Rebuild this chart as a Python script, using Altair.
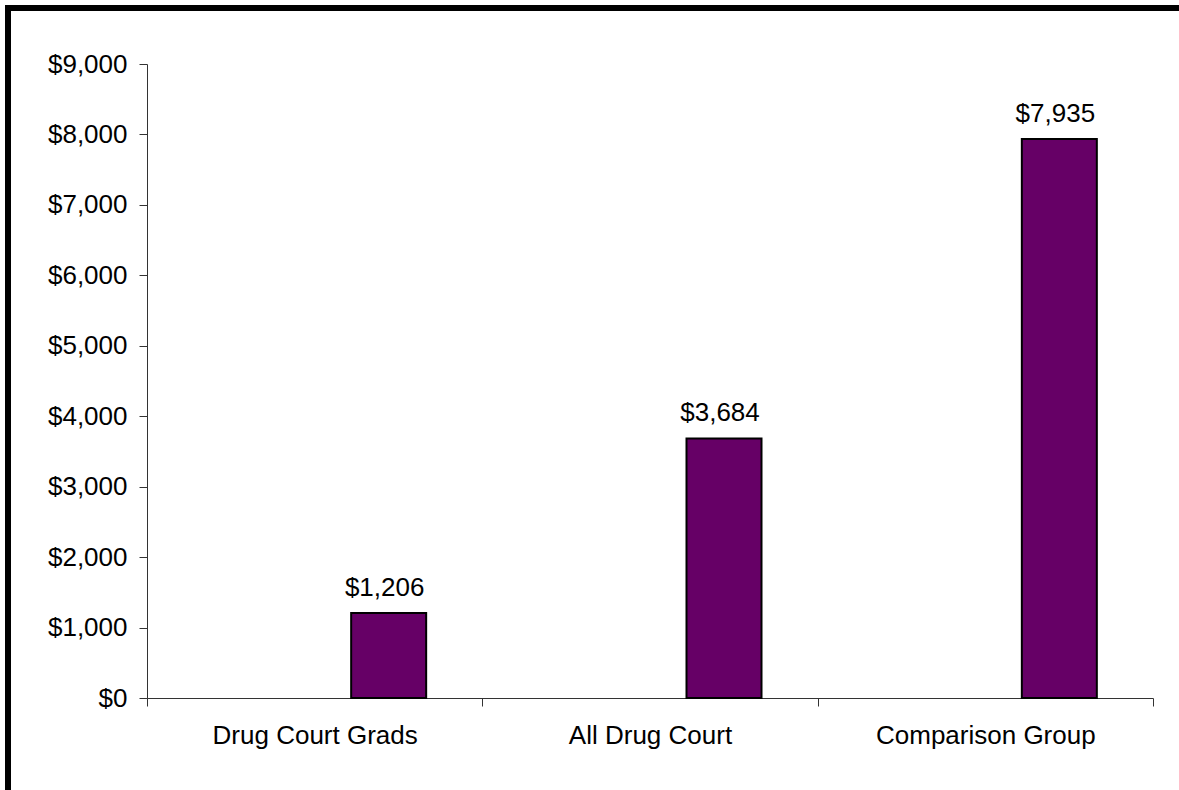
import altair as alt
import pandas as pd

categories = ["Drug Court Grads", "All Drug Court", "Comparison Group"]
costs = [1206, 3684, 7935]
labels = ["$1,206", "$3,684", "$7,935"]

df = pd.DataFrame({"group": categories, "cost": costs, "label": labels})

FONT = "Liberation Sans"

x_enc = alt.X(
    "group:N",
    sort=categories,
    scale=alt.Scale(paddingInner=0, paddingOuter=0),
    axis=alt.Axis(
        title=None, labelAngle=0, labelFontSize=26, labelFont=FONT, labelLimit=0,
        labelColor="black", tickBand="extent", tickSize=8, tickColor="#333333",
        domainColor="#333333", labelPadding=16,
    ),
)
y_enc = alt.Y(
    "cost:Q",
    scale=alt.Scale(domain=[0, 9000], nice=False),
    axis=alt.Axis(
        title=None, values=list(range(0, 9001, 1000)), format="$,.0f",
        labelFontSize=26, labelFont=FONT, labelColor="black", tickSize=8,
        tickColor="#333333", domainColor="#333333", labelPadding=12, grid=False,
    ),
)

bars = alt.Chart(df).mark_bar(
    width=75, xOffset=74, color="#660066", stroke="black", strokeWidth=2
).encode(x=x_enc, y=y_enc)

text = alt.Chart(df).mark_text(
    baseline="alphabetic", align="center", dy=-17, dx=70, fontSize=26, font=FONT, color="black"
).encode(x=alt.X("group:N", sort=categories), y="cost:Q", text="label:N")

frame_data = alt.Data(values=[{"k": 1}])
top_rule = alt.Chart(frame_data).mark_rule(color="black", strokeWidth=6).encode(
    x=alt.value(-142), x2=alt.value(1040), y=alt.value(-56)
)
left_rule = alt.Chart(frame_data).mark_rule(color="black", strokeWidth=6).encode(
    x=alt.value(-139), y=alt.value(-59), y2=alt.value(730)
)

chart = alt.layer(bars, text, top_rule, left_rule).properties(
    width=1006, height=634,
    background="white",
    autosize=alt.AutoSizeParams(type="none"),
    padding={"left": 147, "top": 64, "right": 26, "bottom": 92},
).configure_view(stroke=None)

chart.save("out.html", embed_options={"renderer": "svg", "actions": False})
